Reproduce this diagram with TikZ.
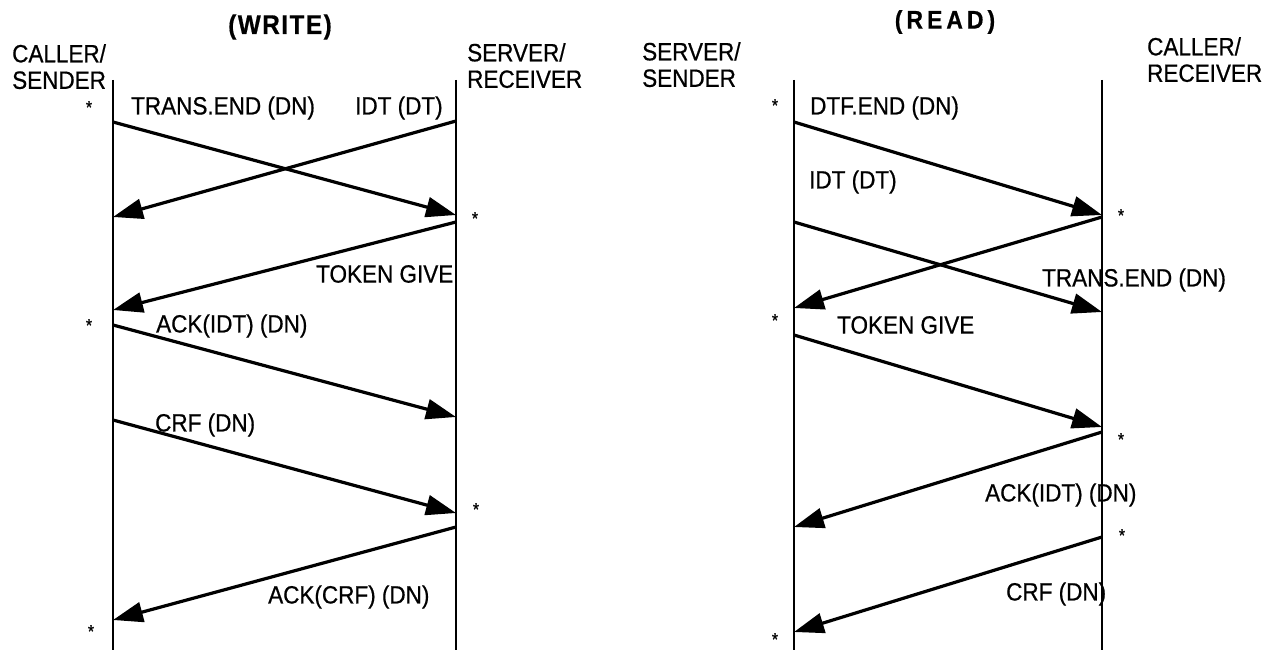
\documentclass[tikz,border=0pt]{standalone}
\usepackage{fontspec}
\setmainfont{Liberation Sans}[FakeStretch=0.9,FakeBold=0.6]
\usetikzlibrary{arrows.meta}
\begin{document}
\begin{tikzpicture}[x=1pt,y=-1pt,
  lbl/.style={inner sep=0pt,font=\fontsize{25}{26.5}\selectfont},
  hdr/.style={lbl,align=left,anchor=north west},
  star/.style={inner sep=0pt,anchor=north,font=\fontsize{18}{18}\selectfont},
  life/.style={line width=2.6pt},
  msg/.style={line width=3.2pt,-{Triangle[length=30pt,width=20pt]}},
  ttl/.style={inner sep=0pt,font=\bfseries\fontsize{27}{28}\selectfont}]
\useasboundingbox (0,0) rectangle (1280,650);

% ---------- titles ----------
\node[ttl] (tw) at (280,27) {(\kern1.5pt W\kern1.5pt R\kern1.5pt I\kern1.5pt T\kern1.5pt E\kern1.5pt )};
\node[ttl,font=\bfseries\fontsize{25.5}{28}\selectfont] (tr) at (945,22) {(\kern4pt R\kern4pt E\kern4pt A\kern4pt D\kern4pt )};

% ---------- headers ----------
\node[hdr] (h1) at (12,44) {CALLER/\\SENDER};
\node[hdr] (h2) at (467,43) {SERVER/\\RECEIVER};
\node[hdr] (h3) at (642,42) {SERVER/\\SENDER};
\node[hdr] (h4) at (1147,37) {CALLER/\\RECEIVER};

% ---------- lifelines ----------
\coordinate (L1t) at (113,80);  \coordinate (L1b) at (113,650);
\coordinate (R1t) at (456,80);  \coordinate (R1b) at (456,650);
\coordinate (L2t) at (794,80);  \coordinate (L2b) at (794,650);
\coordinate (R2t) at (1102,80); \coordinate (R2b) at (1102,650);
\draw[life] (L1t) -- (L1b);
\draw[life] (R1t) -- (R1b);
\draw[life] (L2t) -- (L2b);
\draw[life] (R2t) -- (R2b);

% ---------- WRITE messages ----------
\coordinate (a1s) at (113,122); \coordinate (a1e) at (456,215);
\coordinate (a2s) at (456,121); \coordinate (a2e) at (113,217);
\coordinate (a3s) at (456,222); \coordinate (a3e) at (113,310);
\coordinate (a4s) at (113,325); \coordinate (a4e) at (456,417);
\coordinate (a5s) at (113,420); \coordinate (a5e) at (456,513);
\coordinate (a6s) at (456,527); \coordinate (a6e) at (113,620);
\draw[msg] (a1s) -- (a1e);
\draw[msg] (a2s) -- (a2e);
\draw[msg] (a3s) -- (a3e);
\draw[msg] (a4s) -- (a4e);
\draw[msg] (a5s) -- (a5e);
\draw[msg] (a6s) -- (a6e);

\node[lbl,anchor=west] (t1) at (131,108) {TRANS.END (DN)};
\node[lbl,anchor=west] (t2) at (355,108) {IDT (DT)};
\node[lbl,anchor=west] (t3) at (316,274) {TOKEN GIVE};
\node[lbl,anchor=west] (t4) at (156,326) {ACK(IDT) (DN)};
\node[lbl,anchor=west] (t5) at (155,425) {CRF (DN)};
\node[lbl,anchor=west] (t6) at (268,597) {ACK(CRF) (DN)};

\node[star] (s1) at (89,101) {*};
\node[star] (s2) at (475,212) {*};
\node[star] (s3) at (89,319) {*};
\node[star] (s4) at (476,503) {*};
\node[star] (s5) at (91,625) {*};

% ---------- READ messages ----------
\coordinate (b1s) at (794,122);  \coordinate (b1e) at (1102,215);
\coordinate (b2s) at (794,222);  \coordinate (b2e) at (1102,312);
\coordinate (b3s) at (1102,217); \coordinate (b3e) at (794,308);
\coordinate (b4s) at (794,335);  \coordinate (b4e) at (1102,427);
\coordinate (b5s) at (1102,432); \coordinate (b5e) at (794,527);
\coordinate (b6s) at (1102,537); \coordinate (b6e) at (794,632);
\draw[msg] (b1s) -- (b1e);
\draw[msg] (b2s) -- (b2e);
\draw[msg] (b3s) -- (b3e);
\draw[msg] (b4s) -- (b4e);
\draw[msg] (b5s) -- (b5e);
\draw[msg] (b6s) -- (b6e);

\node[lbl,anchor=west] (u1) at (810,108) {DTF.END (DN)};
\node[lbl,anchor=west] (u2) at (809,182) {IDT (DT)};
\node[lbl,anchor=west] (u3) at (1042,280) {TRANS.END (DN)};
\node[lbl,anchor=west] (u4) at (837,325) {TOKEN GIVE};
\node[lbl,anchor=west] (u5) at (985,495) {ACK(IDT) (DN)};
\node[lbl,anchor=west] (u6) at (1006,594) {CRF (DN)};

\node[star] (v1) at (775,99) {*};
\node[star] (v2) at (1121,209) {*};
\node[star] (v3) at (775,314) {*};
\node[star] (v4) at (1121,433) {*};
\node[star] (v5) at (1122,529) {*};
\node[star] (v6) at (775,633) {*};
\end{tikzpicture}
\end{document}
